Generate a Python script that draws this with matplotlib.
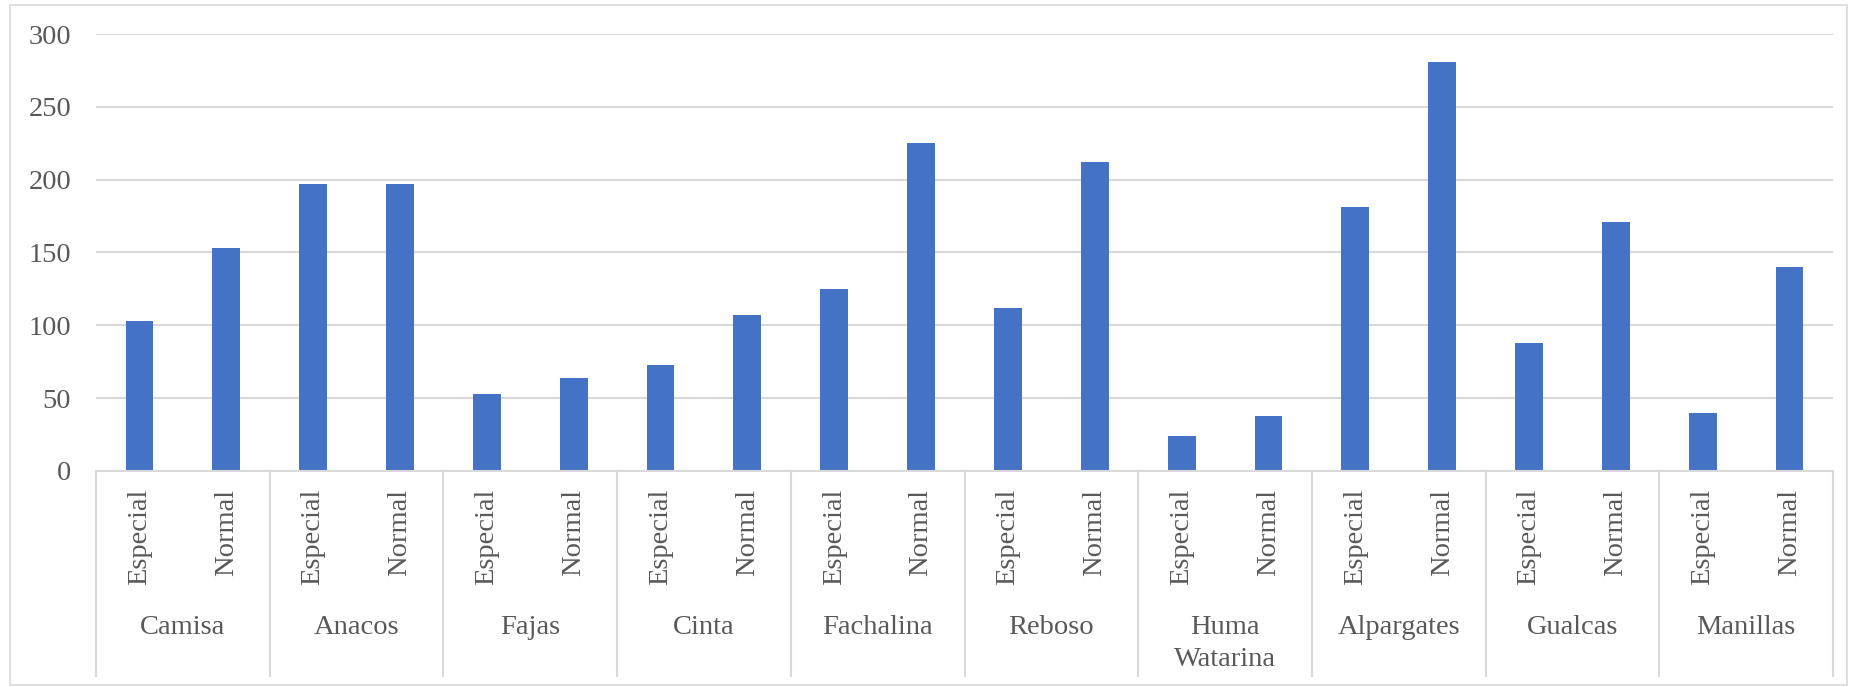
import matplotlib

matplotlib.use("Agg")
import matplotlib.pyplot as plt
import matplotlib.transforms as mtransforms
from matplotlib.patches import Rectangle

categories = ["Camisa", "Anacos", "Fajas", "Cinta", "Fachalina", "Reboso",
              "Huma\nWatarina", "Alpargates", "Gualcas", "Manillas"]
subtypes = ["Especial", "Normal"]
especial = [103, 197, 53, 73, 125, 112, 24, 181, 88, 40]
normal = [153, 197, 64, 107, 225, 212, 38, 281, 171, 140]
y_ticks = [0, 50, 100, 150, 200, 250, 300]

BAR = "#4472C4"
GRID = "#D9D9D9"
TEXT = "#595959"
plt.rcParams["font.family"] = ["Liberation Serif", "DejaVu Serif"]

W, H = 1860, 687
fig = plt.figure(figsize=(W / 100, H / 100), dpi=100)
fig.patches.append(Rectangle((10 / W, 2 / H), 1837 / W, 680 / H, transform=fig.transFigure,
                             fill=False, edgecolor=GRID, linewidth=1.2))

ax_left, ax_right, ax_top, ax_bot = 96, 1833, 34, 471
ax = fig.add_axes([ax_left / W, 1 - ax_bot / H, (ax_right - ax_left) / W, (ax_bot - ax_top) / H])
ax_h = ax_bot - ax_top

# interleave values: each category gets Especial then Normal
values = []
for e, n in zip(especial, normal):
    values += [e, n]
xs = list(range(len(values)))
ax.bar(xs, values, width=0.32, color=BAR, zorder=3)

ax.set_xlim(-0.5, len(values) - 0.5)
ax.set_ylim(0, 300)
ax.set_yticks(y_ticks)
ax.set_yticklabels([str(v) for v in y_ticks], fontsize=20.5, color=TEXT)
ax.tick_params(axis="y", length=0, pad=18)
ax.set_xticks([])
ax.grid(axis="y", color=GRID, linewidth=1.5, zorder=0)
for side in ["top", "right", "left"]:
    ax.spines[side].set_visible(False)
ax.spines["bottom"].set_color(GRID)
ax.spines["bottom"].set_linewidth(1.5)
ax.spines["bottom"].set_zorder(4)

trans = mtransforms.blended_transform_factory(ax.transData, ax.transAxes)

def frac(py):
    return (ax_bot - py) / ax_h

# sub labels
for i, x in enumerate(xs):
    ax.text(x, frac(489), subtypes[i % 2], rotation=90, ha="center", va="top",
            fontsize=20.5, color=TEXT, transform=trans)

# category labels
for j, cat in enumerate(categories):
    ax.text(2 * j + 0.5, frac(615), cat, ha="center", va="top", fontsize=20.5,
            color=TEXT, transform=trans, linespacing=1.35)

# group dividers
for j in range(len(categories) + 1):
    xb = 2 * j - 0.5
    ax.plot([xb, xb], [0, frac(676)], color=GRID, linewidth=1.5, transform=trans,
            clip_on=False, zorder=1)

fig.savefig("out.png", dpi=100)
plt.close(fig)
